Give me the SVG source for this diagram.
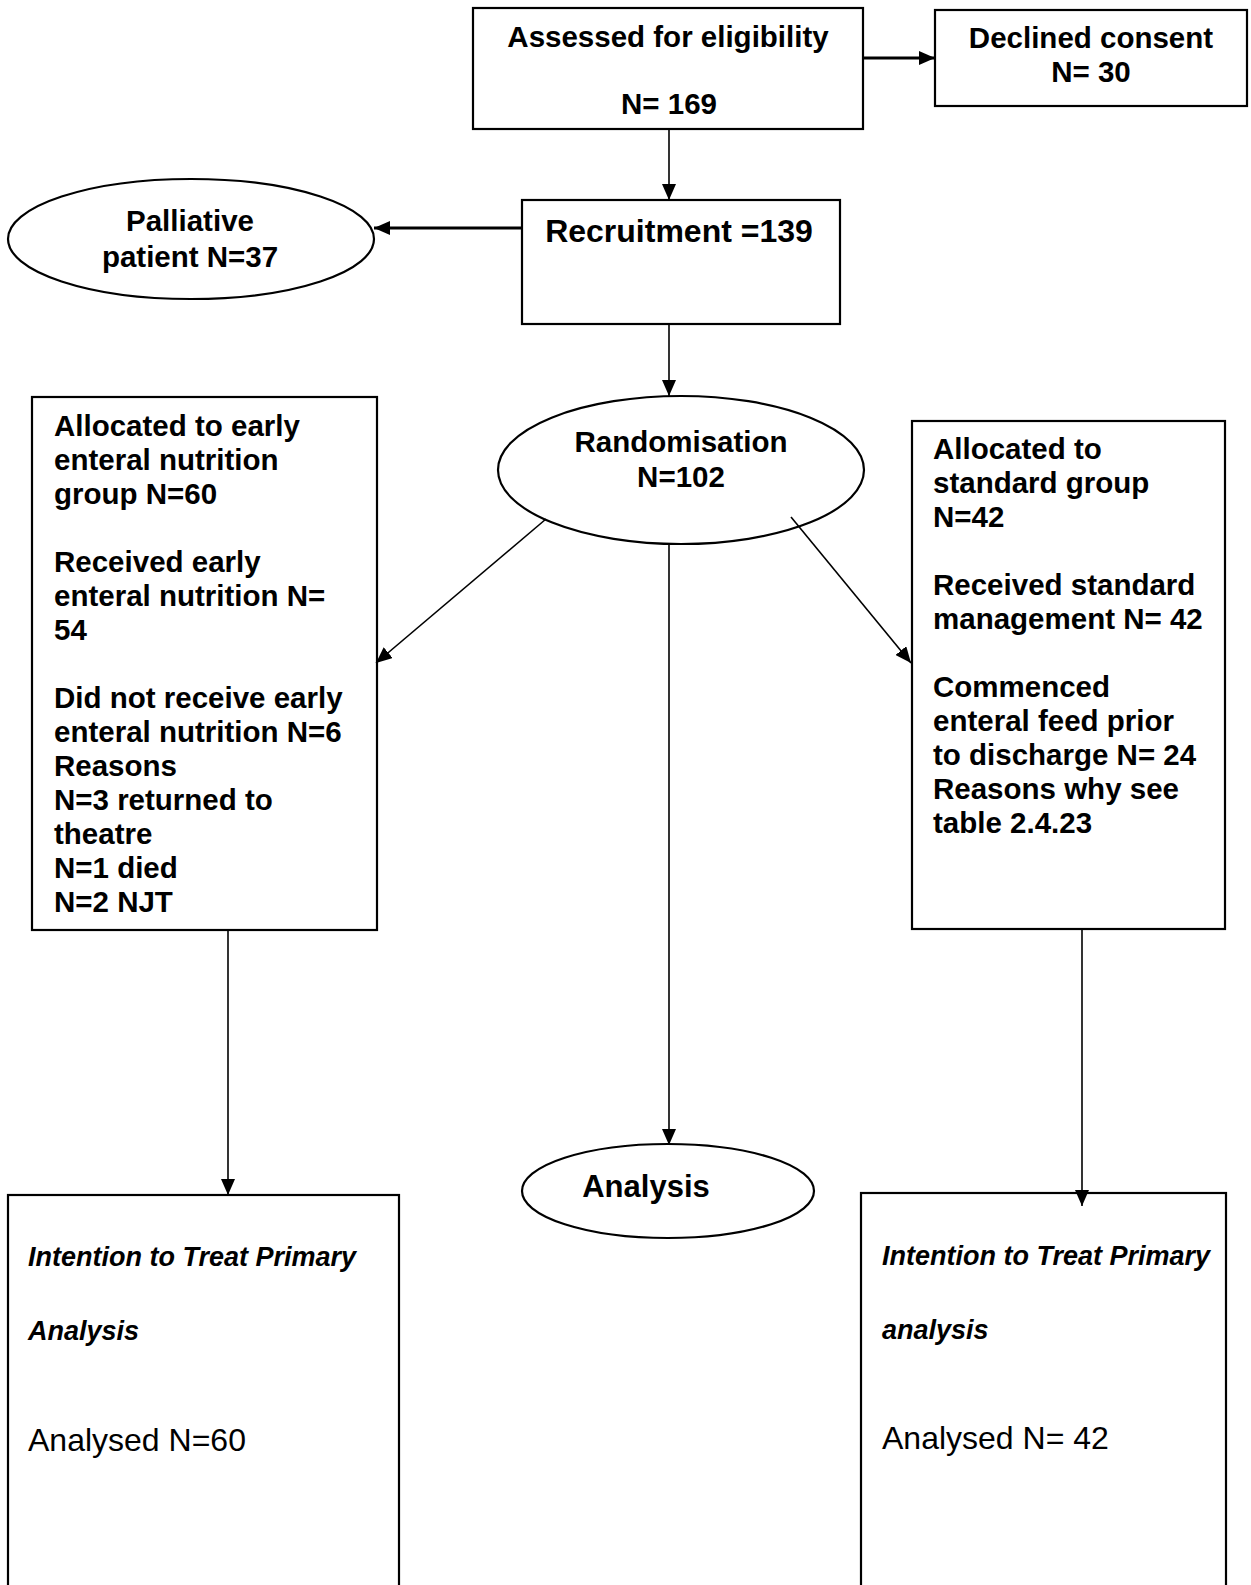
<svg xmlns="http://www.w3.org/2000/svg" width="1251" height="1585" viewBox="0 0 1251 1585">
<style>
.box{fill:#fff;stroke:#000;stroke-width:2.2}
.t{font-family:"Liberation Sans",Arial,sans-serif;font-weight:bold;font-size:29.5px;fill:#000}
.c{text-anchor:middle}
.it{font-family:"Liberation Sans",Arial,sans-serif;font-weight:bold;font-style:italic;font-size:27px;fill:#000}
.rg{font-family:"Liberation Sans",Arial,sans-serif;font-size:32px;fill:#000}
.ln{stroke:#000;stroke-width:1.6;fill:none}
.lnb{stroke:#000;stroke-width:3;fill:none}
</style>
<defs>
<marker id="ah" markerUnits="userSpaceOnUse" markerWidth="16" markerHeight="14" refX="16" refY="7" orient="auto">
<path d="M0,0 L16,7 L0,14 Z" fill="#000"/>
</marker>
</defs>
<rect width="1251" height="1585" fill="#fff"/>
<g id="assessed">
<rect class="box" x="473" y="8" width="390" height="121"/>
<text class="t c" x="668" y="47">Assessed for eligibility</text>
<text class="t c" x="669" y="114">N= 169</text>
</g>
<g id="declined">
<rect class="box" x="935" y="10" width="312" height="96"/>
<text class="t c" x="1091" y="48">Declined consent</text>
<text class="t c" x="1091" y="82">N= 30</text>
</g>
<g id="palliative">
<ellipse class="box" cx="191" cy="239" rx="183" ry="60"/>
<text class="t c" x="190" y="231">Palliative</text>
<text class="t c" x="190" y="267">patient N=37</text>
</g>
<g id="recruitment">
<rect class="box" x="522" y="200" width="318" height="124"/>
<text class="t c" x="679" y="242" style="font-size:32px">Recruitment =139</text>
</g>
<g id="randomisation">
<ellipse class="box" cx="681" cy="470" rx="183" ry="74"/>
<text class="t c" x="681" y="452">Randomisation</text>
<text class="t c" x="681" y="487">N=102</text>
</g>
<g id="early-group">
<rect class="box" x="32" y="397" width="345" height="533"/>
<text class="t" x="54" y="436">Allocated to early</text>
<text class="t" x="54" y="470">enteral nutrition</text>
<text class="t" x="54" y="504">group N=60</text>
<text class="t" x="54" y="572">Received early</text>
<text class="t" x="54" y="606">enteral nutrition N=</text>
<text class="t" x="54" y="640">54</text>
<text class="t" x="54" y="708">Did not receive early</text>
<text class="t" x="54" y="742">enteral nutrition N=6</text>
<text class="t" x="54" y="776">Reasons</text>
<text class="t" x="54" y="810">N=3 returned to</text>
<text class="t" x="54" y="844">theatre</text>
<text class="t" x="54" y="878">N=1 died</text>
<text class="t" x="54" y="912">N=2 NJT</text>
</g>
<g id="standard-group">
<rect class="box" x="912" y="421" width="313" height="508"/>
<text class="t" x="933" y="459">Allocated to</text>
<text class="t" x="933" y="493">standard group</text>
<text class="t" x="933" y="527">N=42</text>
<text class="t" x="933" y="595">Received standard</text>
<text class="t" x="933" y="629">management N= 42</text>
<text class="t" x="933" y="697">Commenced</text>
<text class="t" x="933" y="731">enteral feed prior</text>
<text class="t" x="933" y="765">to discharge N= 24</text>
<text class="t" x="933" y="799">Reasons why see</text>
<text class="t" x="933" y="833">table 2.4.23</text>
</g>
<g id="analysis">
<ellipse class="box" cx="668" cy="1191" rx="146" ry="47"/>
<text class="t c" x="646" y="1197" style="font-size:31px">Analysis</text>
</g>
<g id="itt-early">
<rect class="box" x="8" y="1195" width="391" height="400"/>
<text class="it" x="28" y="1266">Intention to Treat Primary</text>
<text class="it" x="28" y="1340">Analysis</text>
<text class="rg" x="28" y="1451">Analysed N=60</text>
</g>
<g id="itt-standard">
<rect class="box" x="861" y="1193" width="365" height="400"/>
<text class="it" x="882" y="1265">Intention to Treat Primary</text>
<text class="it" x="882" y="1339">analysis</text>
<text class="rg" x="882" y="1449">Analysed N= 42</text>
</g>
<g id="connectors">
<line class="lnb" x1="863" y1="58" x2="935" y2="58" marker-end="url(#ah)"/>
<line class="ln" x1="669" y1="129" x2="669" y2="200" marker-end="url(#ah)"/>
<line class="lnb" x1="521" y1="228" x2="374" y2="228" marker-end="url(#ah)"/>
<line class="ln" x1="669" y1="324" x2="669" y2="396" marker-end="url(#ah)"/>
<line class="ln" x1="546" y1="519" x2="376" y2="663" marker-end="url(#ah)"/>
<line class="ln" x1="791" y1="517" x2="911" y2="663" marker-end="url(#ah)"/>
<line class="ln" x1="669" y1="544" x2="669" y2="1145" marker-end="url(#ah)"/>
<line class="ln" x1="228" y1="930" x2="228" y2="1195" marker-end="url(#ah)"/>
<line class="ln" x1="1082" y1="929" x2="1082" y2="1206" marker-end="url(#ah)"/>
</g>
</svg>
